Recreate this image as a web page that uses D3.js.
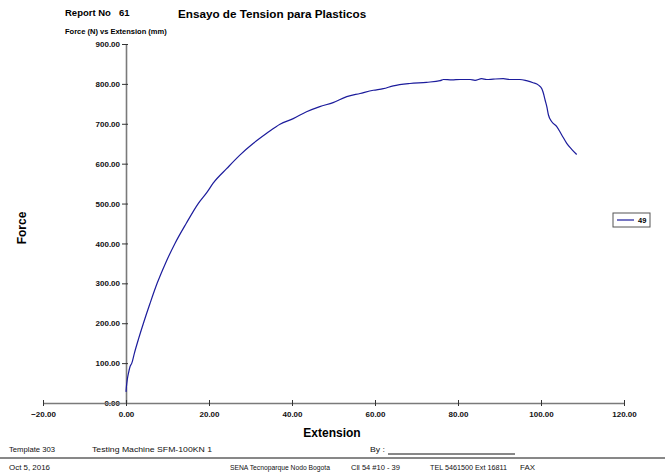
<!DOCTYPE html>
<html>
<head>
<meta charset="utf-8">
<script src="https://cdn.jsdelivr.net/npm/d3@7"></script>
<style>
  body { margin: 0; background: #fff; }
  svg { display: block; font-family: "Liberation Sans", Arial, sans-serif; }
</style>
</head>
<body>
<div id="chart"></div>
<script>
// values
var extension = [0, 0.1, 0.3, 0.6, 1.0, 1.4, 2.0, 3.0, 4.2, 5.8, 7.5, 9.5, 11.8, 14.5, 17.4, 19.5, 21.0,
  24.3, 27.5, 30.7, 33.9, 37.1, 40.3, 43.5, 46.7, 49.9, 53.2, 56.4, 59.6, 62.0, 64.4, 68.4, 72.4,
  75.7, 76.5, 78.5, 80.5, 82.9, 84.1, 85.7, 86.9, 88.5, 90.9, 92.5, 94.9, 96.5, 98.1, 99.4, 100.2,
  100.6, 101.0, 101.4, 101.8, 102.6, 103.8, 105.0, 106.2, 107.4, 108.6];
var force = [28, 41, 58, 75, 92, 100, 124, 160, 200, 250, 300, 350, 400, 450, 500, 528, 551,
  588, 622, 651, 676, 699, 713, 730, 743, 753, 768, 776, 784, 788, 795, 801, 804,
  808, 811, 810, 811, 811, 809, 813, 811, 812, 813, 811, 811, 808, 803, 797, 788,
  776, 759, 743, 722, 705, 693, 672, 651, 636, 623];
var xTicks = [-20, 0, 20, 40, 60, 80, 100, 120];
var yTicks = [0, 100, 200, 300, 400, 500, 600, 700, 800, 900];
var seriesName = "49";

var width = 665, height = 473;

var svg = d3.select("#chart").append("svg")
  .attr("width", width)
  .attr("height", height);

var x = d3.scaleLinear().domain([-20, 120]).range([43, 624]);
var y = d3.scaleLinear().domain([0, 900]).range([403, 44]);

// header
svg.append("text").attr("x", 65).attr("y", 16)
  .style("font-size", "9.5px").style("font-weight", "bold").text("Report No");
svg.append("text").attr("x", 119).attr("y", 16)
  .style("font-size", "9.5px").style("font-weight", "bold").text("61");
svg.append("text").attr("x", 178).attr("y", 18)
  .style("font-size", "11.7px").style("font-weight", "bold").text("Ensayo de Tension para Plasticos");
svg.append("text").attr("x", 65).attr("y", 34)
  .style("font-size", "7.5px").style("font-weight", "bold").text("Force (N) vs Extension (mm)");

// axes
var yAxis = svg.append("g")
  .attr("transform", "translate(" + x(0) + ",0)")
  .call(d3.axisLeft(y).tickValues(yTicks).tickFormat(d3.format(".2f"))
    .tickSize(4).tickSizeOuter(0).tickPadding(2));
yAxis.selectAll(".tick line").attr("x1", 2).attr("stroke", "#333");

var xAxis = svg.append("g")
  .attr("transform", "translate(0," + y(0) + ")")
  .call(d3.axisBottom(x).tickValues(xTicks).tickFormat(d3.format(".2f"))
    .tickSize(3).tickSizeOuter(0).tickPadding(5));
xAxis.selectAll(".tick line").attr("y1", -3).attr("stroke", "#333");

svg.selectAll(".domain").attr("stroke", "#7a7a7a").attr("stroke-width", 1.6);
svg.selectAll(".tick text")
  .attr("fill", "#111")
  .style("font-size", "8px")
  .style("font-weight", "bold")
  .style("font-family", "'Liberation Sans', Arial, sans-serif");

// axis titles
svg.append("text").attr("x", 332).attr("y", 437).attr("text-anchor", "middle")
  .style("font-size", "12px").style("font-weight", "bold").text("Extension");
svg.append("text").attr("transform", "translate(26,228) rotate(-90)").attr("text-anchor", "middle")
  .style("font-size", "12px").style("font-weight", "bold").text("Force");

// curve
var pts = extension.map(function (d, i) { return [d, force[i]]; });
var line = d3.line()
  .x(function (d) { return x(d[0]); })
  .y(function (d) { return y(d[1]); })
  .curve(d3.curveMonotoneX);
svg.append("path")
  .datum(pts)
  .attr("d", line)
  .attr("fill", "none")
  .attr("stroke", "#1c1c9c")
  .attr("stroke-width", 1.2);

// legend
var lg = svg.append("g").attr("transform", "translate(613,213)");
lg.append("rect").attr("width", 37).attr("height", 14)
  .attr("fill", "#fff").attr("stroke", "#555").attr("stroke-width", 1);
lg.append("line").attr("x1", 4).attr("x2", 21).attr("y1", 7).attr("y2", 7)
  .attr("stroke", "#1c1c9c").attr("stroke-width", 1.2);
lg.append("text").attr("x", 25).attr("y", 10)
  .style("font-size", "7.5px").style("font-weight", "bold").text(seriesName);

// footer (narrow font in the original, so squeeze each string to its width)
var foot = svg.append("g").style("font-size", "8px").attr("fill", "#111");
function ftext(tx, ty, w, s) {
  foot.append("text").attr("x", tx).attr("y", ty)
    .attr("textLength", w).attr("lengthAdjust", "spacingAndGlyphs").text(s);
}
ftext(9, 452, 46, "Template 303");
ftext(92, 452, 120, "Testing Machine SFM-100KN 1");
ftext(370, 452, 15, "By :");
svg.append("line").attr("x1", 388).attr("x2", 515).attr("y1", 454).attr("y2", 454)
  .attr("stroke", "#111").attr("stroke-width", 1);
svg.append("line").attr("x1", 0).attr("x2", width).attr("y1", 458).attr("y2", 458)
  .attr("stroke", "#111").attr("stroke-width", 1);
ftext(9, 470, 41, "Oct 5, 2016");
ftext(230, 470, 100, "SENA Tecnoparque Nodo Bogota");
ftext(351, 470, 49, "Cll 54 #10 - 39");
ftext(430, 470, 77, "TEL 5461500 Ext 16811");
ftext(520, 470, 15, "FAX");
</script>
</body>
</html>
